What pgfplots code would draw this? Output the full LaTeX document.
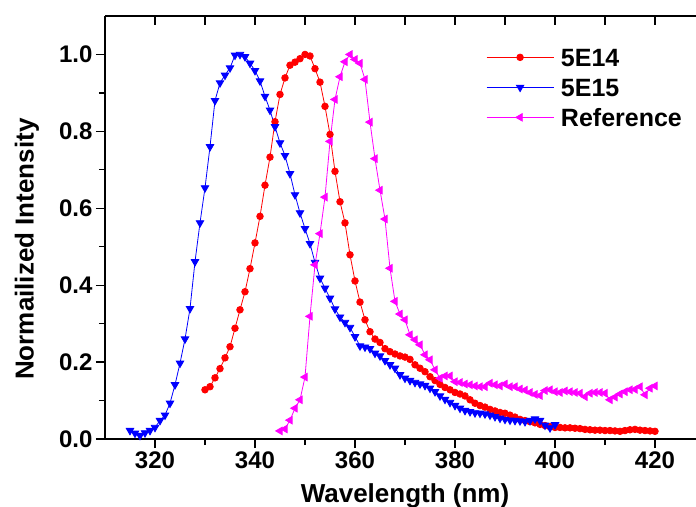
\documentclass[border=0pt]{standalone}
\usepackage{pgfplots}
\pgfplotsset{compat=1.18}
\usepackage{fontspec}
\setmainfont{Liberation Sans}
\definecolor{cred}{RGB}{255,0,0}
\definecolor{cblue}{RGB}{0,0,255}
\definecolor{cmag}{RGB}{255,0,255}
\begin{document}
\begin{tikzpicture}
\begin{axis}[
  name=ax,
  scale only axis, width=600pt, height=423pt,
  xmin=310, xmax=430, ymin=0, ymax=1.1,
  axis x line*=bottom, axis y line*=left,
  axis line style={line width=1.6pt},
  xtick={320,340,360,380,400,420}, minor xtick={330,350,370,390,410},
  ytick={0,0.2,0.4,0.6,0.8,1.0}, minor ytick={0.1,0.3,0.5,0.7,0.9},
  tick align=outside,
  major tick length=9pt, minor tick length=6pt,
  tick style={line width=1.3pt, black},
  /pgf/number format/assume math mode=true,
  tick label style={font=\fontsize{24}{28}\selectfont\bfseries},
  yticklabel style={/pgf/number format/.cd, fixed, fixed zerofill, precision=1},
  xlabel={Wavelength (nm)},
  ylabel={Normailized Intensity},
  xlabel style={font=\fontsize{26}{30}\selectfont\bfseries, at={(rel axis cs:0.5,-0.151)}, anchor=base},
  ylabel style={font=\fontsize{26}{30}\selectfont\bfseries, at={(rel axis cs:-0.13,0.449)}, anchor=center},
  legend style={draw=none, fill=none, inner sep=0pt, at={(rel axis cs:0.635,0.9234)}, anchor=north west,
    font=\fontsize{25}{30}\selectfont\bfseries, row sep=12.5pt, column sep=7pt,
    nodes={inner sep=0pt, text height=17.5pt, text depth=0pt}},
  legend cell align=left,
  legend image code/.code={\draw[mark repeat=2,mark phase=2] plot coordinates {(0pt,0pt) (33.5pt,0pt) (67pt,0pt)};},
]
\addplot[color=cred, line width=0.8pt, mark=*, mark size=3.3pt, mark options={solid}] coordinates {
(330,0.128)(331,0.136)(332,0.159)(333,0.183)(334,0.211)(335,0.240)(336,0.288)(337,0.336)(338,0.383)(339,0.443)
(340,0.510)(341,0.579)(342,0.660)(343,0.733)(344,0.825)(345,0.896)(346,0.939)(347,0.972)(348,0.980)(349,0.989)
(350,1.000)(351,0.996)(352,0.963)(353,0.928)(354,0.865)(355,0.792)(356,0.696)(357,0.617)(358,0.562)(359,0.479)
(360,0.411)(361,0.356)(362,0.310)(363,0.279)(364,0.260)(365,0.251)(366,0.235)(367,0.227)(368,0.221)(369,0.216)
(370,0.213)(371,0.207)(372,0.193)(373,0.184)(374,0.175)(375,0.162)(376,0.152)(377,0.142)(378,0.134)(379,0.128)
(380,0.121)(381,0.117)(382,0.112)(383,0.102)(384,0.093)(385,0.087)(386,0.083)(387,0.077)(388,0.073)(389,0.069)
(390,0.067)(391,0.062)(392,0.057)(393,0.051)(394,0.048)(395,0.045)(396,0.042)(397,0.038)(398,0.035)(399,0.032)
(400,0.030)(401,0.030)(402,0.029)(403,0.029)(404,0.028)(405,0.027)(406,0.025)(407,0.024)(408,0.023)(409,0.023)
(410,0.022)(411,0.022)(412,0.021)(413,0.020)(414,0.022)(415,0.024)(416,0.025)(417,0.023)(418,0.022)(419,0.021)
(420,0.020)};
\addlegendentry{5E14}
\addplot[color=cblue, line width=0.8pt, mark=triangle*, mark size=4.3pt, mark options={solid, rotate=180}] coordinates {
(315,0.022)(316,0.015)(317,0.009)(318,0.016)(319,0.022)(320,0.030)(321,0.048)(322,0.062)(323,0.093)(324,0.141)
(325,0.197)(326,0.260)(327,0.339)(328,0.461)(329,0.562)(330,0.653)(331,0.760)(332,0.880)(333,0.926)(334,0.946)
(335,0.965)(336,0.998)(337,1.000)(338,0.994)(339,0.977)(340,0.958)(341,0.931)(342,0.891)(343,0.855)(344,0.812)
(345,0.770)(346,0.737)(347,0.690)(348,0.635)(349,0.588)(350,0.547)(351,0.508)(352,0.459)(353,0.418)(354,0.392)
(355,0.366)(356,0.338)(357,0.317)(358,0.303)(359,0.290)(360,0.266)(361,0.242)(362,0.239)(363,0.235)(364,0.223)
(365,0.216)(366,0.204)(367,0.193)(368,0.184)(369,0.167)(370,0.158)(371,0.152)(372,0.147)(373,0.143)(374,0.139)
(375,0.132)(376,0.123)(377,0.112)(378,0.103)(379,0.095)(380,0.087)(381,0.080)(382,0.074)(383,0.071)(384,0.068)
(385,0.067)(386,0.065)(387,0.062)(388,0.058)(389,0.054)(390,0.051)(391,0.049)(392,0.048)(393,0.047)(394,0.045)
(395,0.048)(396,0.052)(397,0.048)(398,0.036)(399,0.029)(400,0.037)};
\addlegendentry{5E15}
\addplot[color=cmag, line width=0.8pt, mark=triangle*, mark size=4.3pt, mark options={solid, rotate=90}] coordinates {
(345,0.021)(346,0.026)(347,0.049)(348,0.080)(349,0.102)(350,0.161)(351,0.319)(352,0.453)(353,0.534)(354,0.629)
(355,0.774)(356,0.883)(357,0.942)(358,0.981)(359,1.000)(360,0.987)(361,0.977)(362,0.935)(363,0.824)(364,0.729)
(365,0.647)(366,0.572)(367,0.444)(368,0.358)(369,0.325)(370,0.310)(371,0.271)(372,0.258)(373,0.245)(374,0.219)
(375,0.206)(376,0.180)(377,0.158)(378,0.164)(379,0.164)(380,0.149)(381,0.147)(382,0.143)(383,0.141)(384,0.138)
(385,0.136)(386,0.136)(387,0.145)(388,0.141)(389,0.138)(390,0.143)(391,0.136)(392,0.136)(393,0.130)(394,0.127)
(395,0.121)(396,0.116)(397,0.113)(398,0.126)(399,0.128)(400,0.123)(401,0.121)(402,0.125)(403,0.123)(404,0.121)
(405,0.119)(406,0.110)(407,0.119)(408,0.121)(409,0.121)(410,0.119)(411,0.102)(412,0.109)(413,0.117)(414,0.123)
(415,0.128)(416,0.129)(417,0.136)(418,0.115)(419,0.132)(420,0.138)};
\addlegendentry{Reference}
\end{axis}
\begin{axis}[
  scale only axis, width=600pt, height=423pt,
  xmin=310, xmax=430, ymin=0, ymax=1.1,
  axis x line*=top, axis y line=none,
  axis line style={line width=1.6pt},
  xtick={320,330,...,420}, xticklabels={},
  tick align=inside, major tick length=9pt,
  tick style={line width=1.3pt, black},
]
\end{axis}
\pgfresetboundingbox
\path[use as bounding box] (ax.south west) ++(-105pt,-67pt) rectangle ++(696pt,506pt);
\end{tikzpicture}
\end{document}
